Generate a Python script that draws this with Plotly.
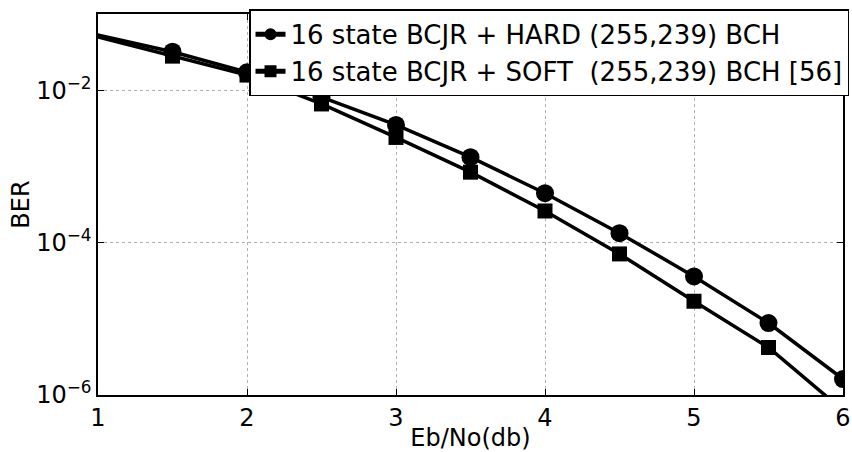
import plotly.graph_objects as go

ebno = [0.5, 1.5, 2.0, 2.5, 3.0, 3.5, 4.0, 4.5, 5.0, 5.5, 6.0]
ber_hard = [8.7e-2, 3.2e-2, 1.72e-2, 8.1e-3, 3.5e-3, 1.32e-3, 4.45e-4, 1.33e-4, 3.6e-5, 8.8e-6, 1.62e-6]
ber_soft = [8.9e-2, 2.8e-2, 1.58e-2, 6.6e-3, 2.4e-3, 8.4e-4, 2.6e-4, 7.1e-5, 1.7e-5, 4.2e-6, 6.3e-7]

name_hard = "16 state BCJR + HARD (255,239) BCH"
name_soft = "16 state BCJR + SOFT\u00a0 (255,239) BCH [56]"

x_ticks = [1, 2, 3, 4, 5, 6]
y_ticks = [1e-6, 1e-4, 1e-2]
y_ticktext = ["10<sup>\u22126</sup>", "10<sup>\u22124</sup>", "10<sup>\u22122</sup>"]

FONT = "DejaVu Sans, Liberation Sans, Arial, sans-serif"

fig = go.Figure()
fig.add_trace(go.Scatter(
    x=ebno, y=ber_hard, name=name_hard, mode="lines+markers",
    line=dict(color="black", width=3.5),
    marker=dict(symbol="circle", size=18, color="black"),
))
fig.add_trace(go.Scatter(
    x=ebno, y=ber_soft, name=name_soft, mode="lines+markers",
    line=dict(color="black", width=3.5),
    marker=dict(symbol="square", size=15, color="black"),
))

fig.update_layout(
    width=852, height=452,
    margin=dict(l=98, r=9, t=14, b=57, autoexpand=False),
    paper_bgcolor="white", plot_bgcolor="white",
    font=dict(family=FONT, size=24, color="black"),
    showlegend=True,
    legend=dict(
        x=0.2027, y=1.012, xanchor="left", yanchor="top",
        bgcolor="white", bordercolor="black", borderwidth=1.5,
        font=dict(family=FONT, size=26, color="black"),
        tracegroupgap=0, itemwidth=30, itemsizing="constant",
    ),
    xaxis=dict(
        range=[1, 6], tickvals=x_ticks, ticks="inside", ticklen=6,
        tickcolor="black", showline=True, linecolor="black", linewidth=1.5,
        mirror="ticks", showgrid=True, gridcolor="#b0b0b0", griddash="dot",
        gridwidth=1, zeroline=False, automargin=False,
        tickfont=dict(family=FONT, size=24, color="black"),
        title=dict(text="Eb/No(db)", font=dict(family=FONT, size=24), standoff=0),
    ),
    yaxis=dict(
        type="log", range=[-6, -1], tickvals=y_ticks, ticktext=y_ticktext,
        ticks="inside", ticklen=6, tickcolor="black",
        showline=True, linecolor="black", linewidth=1.5, mirror="ticks",
        showgrid=True, gridcolor="#b0b0b0", griddash="dot", gridwidth=1,
        zeroline=False, automargin=False,
        tickfont=dict(family=FONT, size=24, color="black"),
        title=dict(text="BER", font=dict(family=FONT, size=24), standoff=0),
    ),
)

fig.write_html(
    "out.html",
    config={"displayModeBar": False},
    post_script="document.body.style.margin='0';document.body.style.padding='0';document.body.style.overflow='hidden';",
)
